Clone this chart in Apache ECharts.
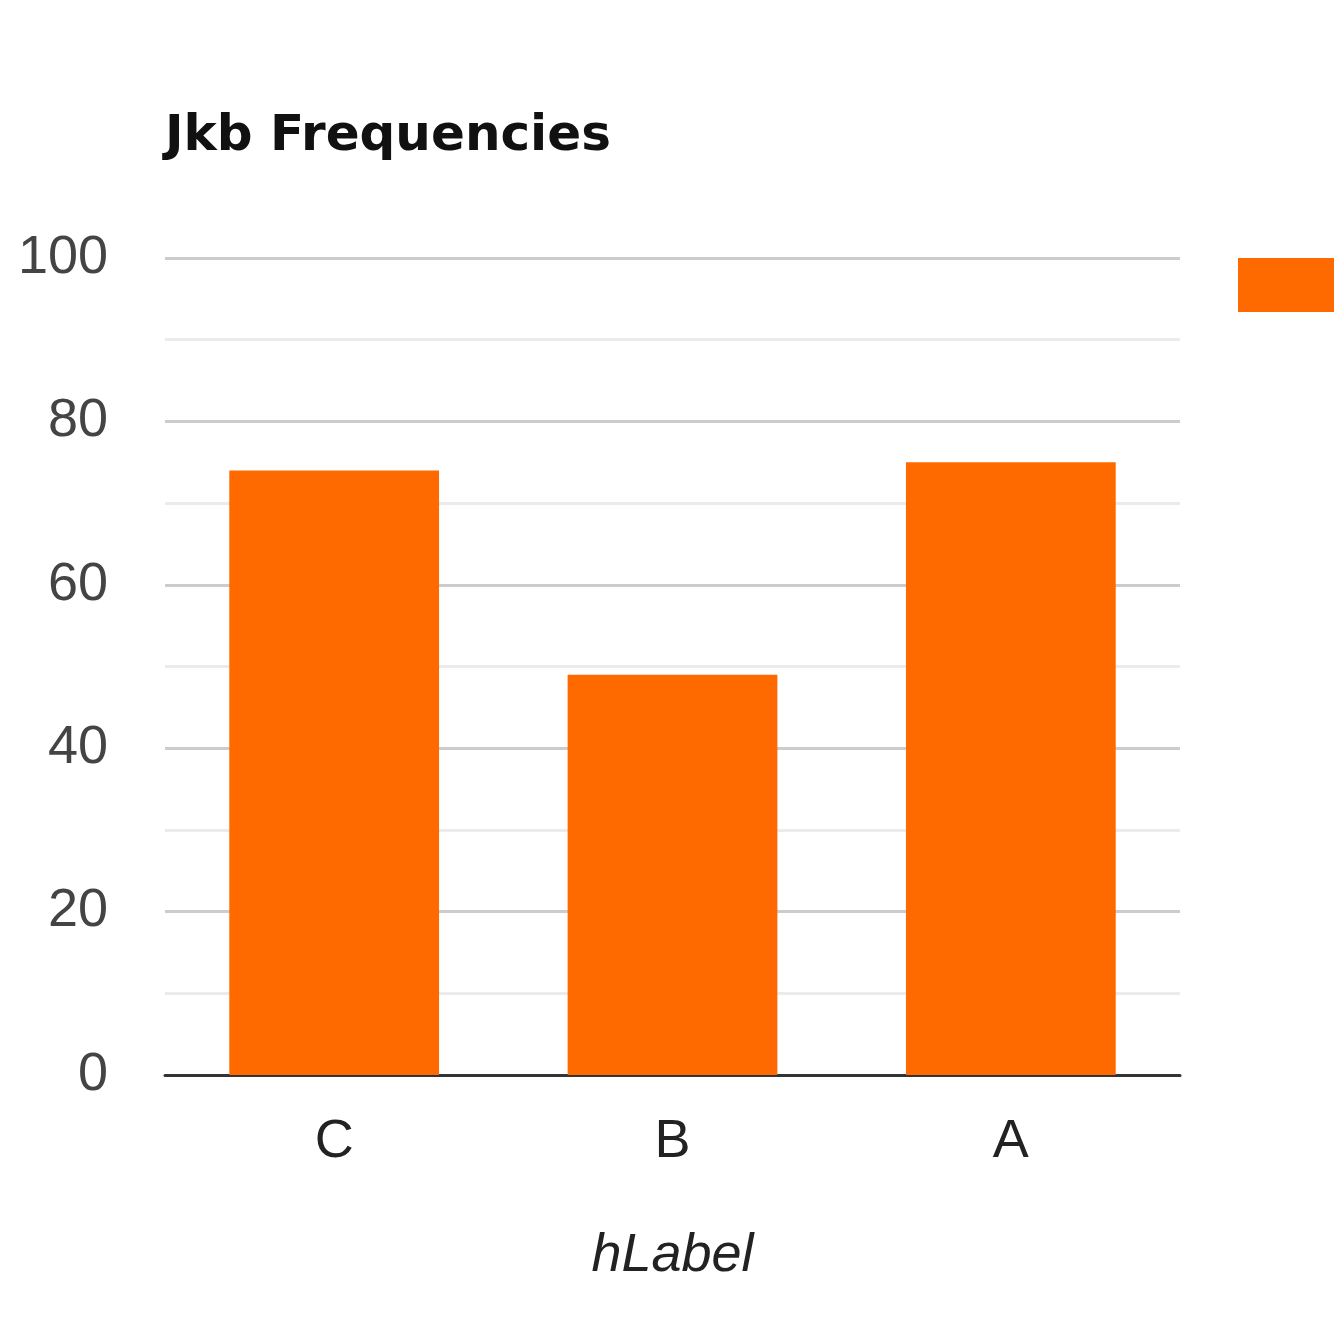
<!DOCTYPE html>
<html>
<head>
<meta charset="utf-8">
<script src="https://cdn.jsdelivr.net/npm/echarts@6/dist/echarts.min.js"></script>
<style>
html,body{margin:0;padding:0;background:#fff;}
#chart{width:1334px;height:1334px;}
</style>
</head>
<body>
<div id="chart"></div>
<script>
var categories = ['C', 'B', 'A'];
var frequencies = [74, 49, 75];
var seriesName = 'Frequency';
var chartTitle = 'Jkb Frequencies';
var xAxisName = 'hLabel';

var chart = echarts.init(document.getElementById('chart'));
chart.setOption({
  animation: false,
  backgroundColor: '#ffffff',
  title: {
    text: chartTitle,
    left: 165,
    top: 112,
    padding: 0,
    textStyle: { fontFamily: 'DejaVu Sans', fontWeight: 'bold', fontSize: 50, color: '#111' }
  },
  legend: {
    left: 1238,
    top: 258,
    padding: 0,
    itemWidth: 120,
    itemHeight: 54,
    textStyle: { fontSize: 40, color: '#222', fontFamily: 'Liberation Sans' },
    data: [{ name: seriesName, icon: 'rect' }]
  },
  grid: { left: 165, right: 154, top: 258, bottom: 259, containLabel: false },
  xAxis: {
    type: 'category',
    data: categories,
    name: xAxisName,
    nameLocation: 'middle',
    nameGap: 154,
    nameTextStyle: { fontFamily: 'Liberation Sans', fontStyle: 'italic', fontSize: 54, color: '#222' },
    axisLine: { show: true, lineStyle: { color: '#333', width: 3 } },
    axisTick: { show: false },
    axisLabel: { fontFamily: 'Liberation Sans', fontSize: 54, color: '#222', margin: 40 }
  },
  yAxis: {
    type: 'value',
    min: 0,
    max: 100,
    interval: 20,
    axisLine: { show: false },
    axisTick: { show: false },
    axisLabel: { fontFamily: 'Liberation Sans', fontSize: 54, color: '#444', margin: 57 },
    splitLine: { show: true, lineStyle: { color: '#cccccc', width: 3 } },
    minorTick: { show: false, splitNumber: 2 },
    minorSplitLine: { show: true, lineStyle: { color: '#ebebeb', width: 3 } }
  },
  series: [{
    name: seriesName,
    type: 'bar',
    data: frequencies,
    barCategoryGap: '38%',
    itemStyle: { color: '#ff6a00' }
  }]
});
</script>
</body>
</html>
